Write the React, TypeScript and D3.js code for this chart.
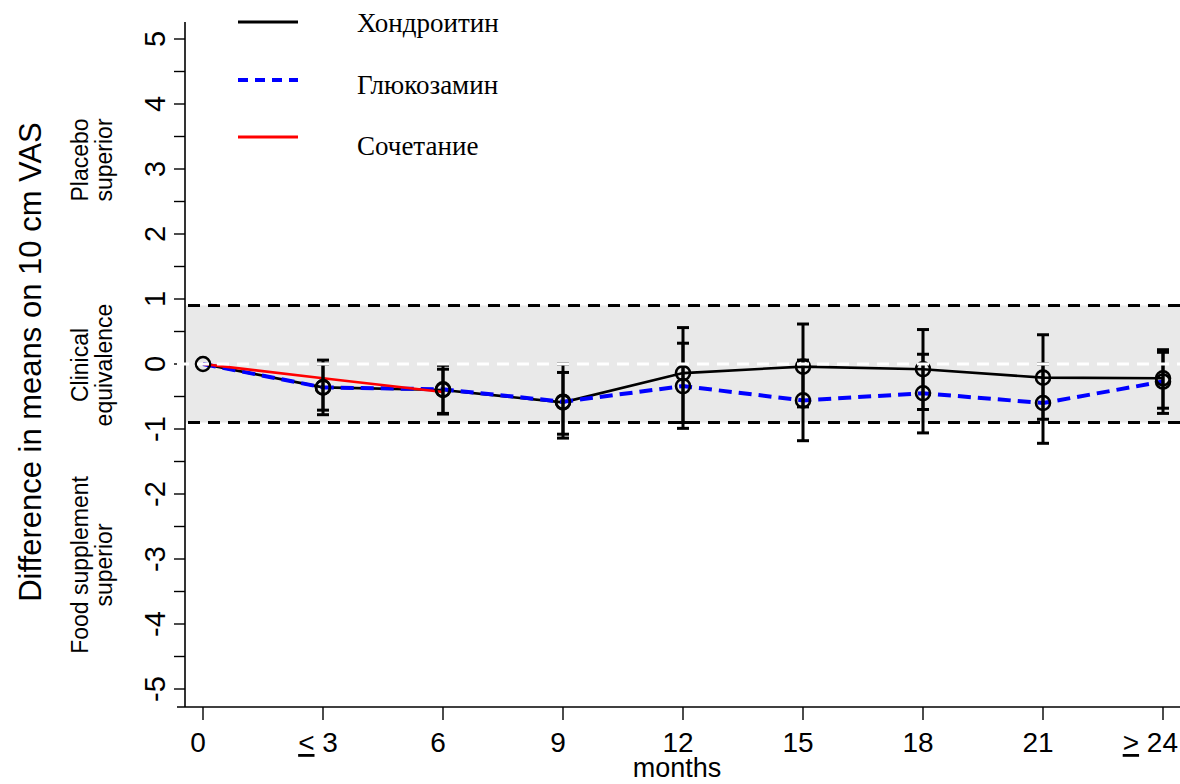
import React from "react";
import * as d3 from "d3";

const months = [0, 3, 6, 9, 12, 15, 18, 21, 24];
const monthLabels = ["0", "3", "6", "9", "12", "15", "18", "21", "24"];
const chond = [0, -0.36, -0.4, -0.59, -0.14, -0.04, -0.08, -0.21, -0.22];
const chondLo = [NaN, -0.78, -0.77, -1.14, -0.9, -0.66, -0.7, -0.85, -0.68];
const chondHi = [NaN, 0.06, -0.02, 0.0, 0.56, 0.615, 0.53, 0.45, 0.22];
const gluc = [0, -0.36, -0.39, -0.58, -0.34, -0.56, -0.45, -0.6, -0.27];
const glucLo = [NaN, -0.71, -0.76, -1.08, -0.99, -1.18, -1.06, -1.22, -0.76];
const glucHi = [NaN, 0.0, -0.08, -0.13, 0.32, 0.06, 0.15, 0.0, 0.18];
const comboMonths = [0, 3, 6];
const combo = [0, -0.22, -0.43];
const yTicks = [-5, -4, -3, -2, -1, 0, 1, 2, 3, 4, 5];
const yMinor = [-4.5, -3.5, -2.5, -1.5, -0.5, 0.5, 1.5, 2.5, 3.5, 4.5];
const equivBound = 0.9;
const legendNames = ["Хондроитин", "Глюкозамин", "Сочетание"];

const SANS = "'Liberation Sans', Arial, sans-serif";
const SERIF = "'Liberation Serif', 'Times New Roman', serif";

export default function App() {
  const x = d3.scaleLinear().domain([0, 24]).range([203, 1163]);
  const y = d3.scaleLinear().domain([-5, 5]).range([689, 39]);
  const axisX = 185;
  const axisY = 707;
  const yTop = 22;
  const right = 1180;

  const line = d3
    .line<[number, number]>()
    .x((d) => x(d[0]))
    .y((d) => y(d[1]));

  const chondPts = months.map((m, i) => [m, chond[i]] as [number, number]);
  const glucPts = months.map((m, i) => [m, gluc[i]] as [number, number]);
  const comboPts = comboMonths.map((m, i) => [m, combo[i]] as [number, number]);

  const bars: { m: number; lo: number; hi: number }[] = [];
  months.forEach((m, i) => {
    if (!isNaN(chondLo[i])) bars.push({ m, lo: chondLo[i], hi: chondHi[i] });
    if (!isNaN(glucLo[i])) bars.push({ m, lo: glucLo[i], hi: glucHi[i] });
  });

  const capW = 6;
  const legendY = [22, 80, 137];
  const legendTextY = [23, 85, 146];

  return (
    <svg
      width={1180}
      height={784}
      style={{ position: "absolute", left: 0, top: 0, background: "#fff" }}
    >
      {/* equivalence band */}
      <rect
        x={axisX}
        y={y(equivBound)}
        width={right - axisX}
        height={y(-equivBound) - y(equivBound)}
        fill="#e9e9e9"
      />
      <line x1={axisX + 3} x2={right} y1={y(equivBound)} y2={y(equivBound)} stroke="#000" strokeWidth={3.2} strokeDasharray="12,8" />
      <line x1={axisX + 3} x2={right} y1={y(-equivBound)} y2={y(-equivBound)} stroke="#000" strokeWidth={3.2} strokeDasharray="12,8" />

      {/* axes */}
      <line x1={axisX} x2={axisX} y1={yTop} y2={axisY} stroke="#000" strokeWidth={1.6} />
      <line x1={177} x2={right} y1={axisY} y2={axisY} stroke="#000" strokeWidth={1.6} />
      {yTicks.concat(yMinor).map((t) => (
        <line key={"yt" + t} x1={axisX - 11} x2={axisX} y1={y(t)} y2={y(t)} stroke="#000" strokeWidth={1.4} />
      ))}
      {yTicks.map((t) => (
        <text
          key={"yl" + t}
          transform={`translate(${155},${y(t)}) rotate(-90)`}
          textAnchor="middle"
          dominantBaseline="central"
          fontFamily={SANS}
          fontSize={29}
        >
          {t}
        </text>
      ))}
      {months.map((m) => (
        <line key={"xt" + m} x1={x(m)} x2={x(m)} y1={axisY} y2={axisY + 13} stroke="#000" strokeWidth={1.4} />
      ))}
      {months.map((m, i) => (
        <text
          key={"xl" + m}
          x={i === 8 ? 1178 : x(m) - 5}
          y={752}
          textAnchor={i === 8 ? "end" : "middle"}
          fontFamily={SANS}
          fontSize={28}
        >
          {i === 1 ? (
            <>
              <tspan textDecoration="underline">{"<"}</tspan>
              {" " + monthLabels[i]}
            </>
          ) : i === 8 ? (
            <>
              <tspan textDecoration="underline">{">"}</tspan>
              {" " + monthLabels[i]}
            </>
          ) : (
            monthLabels[i]
          )}
        </text>
      ))}
      <text x={677} y={777} textAnchor="middle" fontFamily={SANS} fontSize={27}>
        months
      </text>

      {/* y title and region labels */}
      <text
        transform={`translate(${30},${362}) rotate(-90)`}
        textAnchor="middle"
        dominantBaseline="central"
        fontFamily={SANS}
        fontSize={31}
      >
        Difference in means on 10 cm VAS
      </text>
      {[
        ["Placebo", "superior", 160],
        ["Clinical", "equivalence", 365],
        ["Food supplement", "superior", 565],
      ].map(([a, b, cy]) => (
        <g key={a as string}>
          <text transform={`translate(${80},${cy}) rotate(-90)`} textAnchor="middle" dominantBaseline="central" fontFamily={SANS} fontSize={23}>
            {a}
          </text>
          <text transform={`translate(${104},${cy}) rotate(-90)`} textAnchor="middle" dominantBaseline="central" fontFamily={SANS} fontSize={23}>
            {b}
          </text>
        </g>
      ))}

      {/* series lines */}
      <path d={line(chondPts) || ""} fill="none" stroke="#000" strokeWidth={2.6} />
      <path d={line(glucPts) || ""} fill="none" stroke="#0000ff" strokeWidth={4} strokeDasharray="13,7" />
      <path d={line(comboPts) || ""} fill="none" stroke="#ff0000" strokeWidth={2.6} />

      {/* error bars */}
      {bars.map((b, i) => (
        <g key={"eb" + i} stroke="#000" strokeWidth={3}>
          <line x1={x(b.m)} x2={x(b.m)} y1={y(b.lo)} y2={y(b.hi)} />
          <line x1={x(b.m) - capW} x2={x(b.m) + capW} y1={y(b.lo)} y2={y(b.lo)} />
          <line x1={x(b.m) - capW} x2={x(b.m) + capW} y1={y(b.hi)} y2={y(b.hi)} />
        </g>
      ))}

      {/* markers */}
      {chondPts.concat(glucPts.slice(1)).map((p, i) => (
        <circle key={"pt" + i} cx={x(p[0])} cy={y(p[1])} r={7} fill="none" stroke="#000" strokeWidth={2.6} />
      ))}

      {/* zero reference */}
      <line x1={177} x2={right} y1={y(0)} y2={y(0)} stroke="#fff" strokeWidth={3} strokeDasharray="12,8" />

      {/* legend */}
      <line x1={238} x2={298} y1={legendY[0]} y2={legendY[0]} stroke="#000" strokeWidth={3} />
      <line x1={238} x2={298} y1={legendY[1]} y2={legendY[1]} stroke="#0000ff" strokeWidth={4} strokeDasharray="10,7" />
      <line x1={238} x2={298} y1={legendY[2]} y2={legendY[2]} stroke="#ff0000" strokeWidth={3} />
      {legendNames.map((n, i) => (
        <text key={n} x={357} y={legendTextY[i]} dominantBaseline="central" fontFamily={SERIF} fontSize={27}>
          {n}
        </text>
      ))}
    </svg>
  );
}
